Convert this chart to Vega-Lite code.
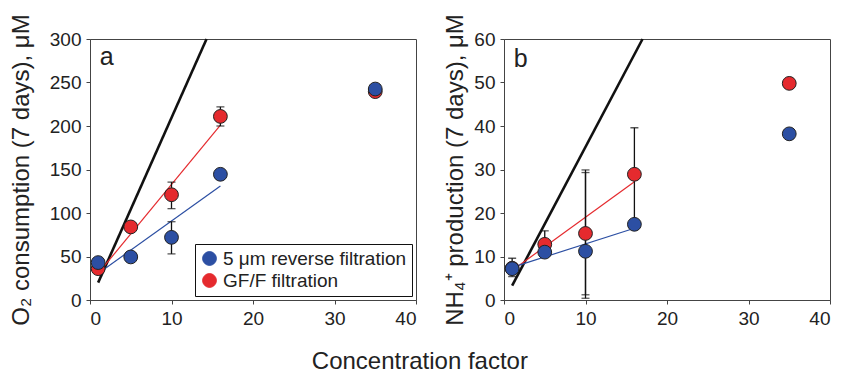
{
  "$schema": "https://vega.github.io/schema/vega-lite/v6.json",
  "background": "white",
  "padding": {"left": 8, "top": 13, "right": 8, "bottom": 2},
  "spacing": 26,
  "config": {
    "font": "Liberation Sans",
    "view": {"stroke": "#444", "strokeWidth": 1},
    "axis": {
      "grid": false,
      "domainColor": "#444",
      "tickColor": "#444",
      "tickSize": 4,
      "labelFontSize": 19,
      "labelColor": "#222",
      "labelPadding": 5,
      "titleFontSize": 24,
      "titleFontWeight": "normal",
      "titleColor": "#222",
      "titlePadding": 16
    }
  },
  "title": {"text": "Concentration factor", "orient": "bottom", "anchor": "middle", "fontSize": 24, "fontWeight": "normal", "color": "#222", "offset": 21},
  "datasets": {
    "pts": [
      {"panel": "a", "series": "GF/F filtration", "x": 1, "y": 36},
      {"panel": "a", "series": "GF/F filtration", "x": 5, "y": 84},
      {"panel": "a", "series": "GF/F filtration", "x": 10, "y": 121},
      {"panel": "a", "series": "GF/F filtration", "x": 16, "y": 211},
      {"panel": "a", "series": "GF/F filtration", "x": 35, "y": 239.5},
      {"panel": "a", "series": "5 μm reverse filtration", "x": 1, "y": 43},
      {"panel": "a", "series": "5 μm reverse filtration", "x": 5, "y": 49.5},
      {"panel": "a", "series": "5 μm reverse filtration", "x": 10, "y": 72},
      {"panel": "a", "series": "5 μm reverse filtration", "x": 16, "y": 144.5},
      {"panel": "a", "series": "5 μm reverse filtration", "x": 35, "y": 242.5},
      {"panel": "b", "series": "GF/F filtration", "x": 1, "y": 7.3},
      {"panel": "b", "series": "GF/F filtration", "x": 5, "y": 12.8},
      {"panel": "b", "series": "GF/F filtration", "x": 10, "y": 15.3},
      {"panel": "b", "series": "GF/F filtration", "x": 16, "y": 28.9},
      {"panel": "b", "series": "GF/F filtration", "x": 35, "y": 49.8},
      {"panel": "b", "series": "5 μm reverse filtration", "x": 1, "y": 7.2},
      {"panel": "b", "series": "5 μm reverse filtration", "x": 5, "y": 11.0},
      {"panel": "b", "series": "5 μm reverse filtration", "x": 10, "y": 11.2},
      {"panel": "b", "series": "5 μm reverse filtration", "x": 16, "y": 17.4},
      {"panel": "b", "series": "5 μm reverse filtration", "x": 35, "y": 38.2}
    ],
    "err": [
      {"panel": "a", "x": 10, "lo": 105, "hi": 135.5},
      {"panel": "a", "x": 10, "lo": 53, "hi": 90},
      {"panel": "a", "x": 16, "lo": 200, "hi": 222},
      {"panel": "b", "x": 1, "lo": 5.4, "hi": 9.6},
      {"panel": "b", "x": 5, "lo": 9.8, "hi": 15.9},
      {"panel": "b", "x": 10, "lo": 0.4, "hi": 29.9},
      {"panel": "b", "x": 10, "lo": 1.2, "hi": 29.3},
      {"panel": "b", "x": 16, "lo": 18.2, "hi": 39.6}
    ],
    "fit": [
      {"panel": "a", "series": "GF/F filtration", "x": 1, "y": 30.5},
      {"panel": "a", "series": "GF/F filtration", "x": 16, "y": 201},
      {"panel": "a", "series": "5 μm reverse filtration", "x": 1, "y": 30.5},
      {"panel": "a", "series": "5 μm reverse filtration", "x": 16, "y": 131},
      {"panel": "b", "series": "GF/F filtration", "x": 1, "y": 6.8},
      {"panel": "b", "series": "GF/F filtration", "x": 16, "y": 27.2},
      {"panel": "b", "series": "5 μm reverse filtration", "x": 1, "y": 7.5},
      {"panel": "b", "series": "5 μm reverse filtration", "x": 16, "y": 16.5}
    ],
    "ref": [
      {"panel": "a", "x": 1, "y": 20},
      {"panel": "a", "x": 14.3, "y": 300},
      {"panel": "b", "x": 1, "y": 3.3},
      {"panel": "b", "x": 17, "y": 60}
    ],
    "lab": [
      {"panel": "a", "label": "a", "x": 1.2, "y": 279},
      {"panel": "b", "label": "b", "x": 1.2, "y": 55.5}
    ]
  },
  "resolve": {"legend": {"color": "independent"}, "scale": {"y": "independent"}},
  "hconcat": [
    {
      "width": 326,
      "height": 261,
      "layer": [
        {
          "data": {"name": "ref"},
          "transform": [{"filter": "datum.panel === 'a'"}],
          "mark": {"type": "line", "color": "#111", "strokeWidth": 2.6},
          "encoding": {
            "x": {"field": "x", "type": "quantitative", "scale": {"domain": [0, 40], "nice": false}, "axis": {"values": [0, 10, 20, 30, 40], "title": null}},
            "y": {"field": "y", "type": "quantitative", "scale": {"domain": [0, 300], "nice": false}, "axis": {"values": [0, 50, 100, 150, 200, 250, 300], "title": "O₂ consumption (7 days), μM", "titlePadding": 16}}
          }
        },
        {
          "data": {"name": "fit"},
          "transform": [{"filter": "datum.panel === 'a'"}],
          "mark": {"type": "line", "strokeWidth": 1.2},
          "encoding": {
            "x": {"field": "x", "type": "quantitative"},
            "y": {"field": "y", "type": "quantitative"},
            "detail": {"field": "series"},
            "color": {"field": "series", "type": "nominal", "scale": {"domain": ["5 μm reverse filtration", "GF/F filtration"], "range": ["#2c4fa3", "#e52a2e"]},
              "legend": {"title": null, "orient": "bottom-right", "offset": 4, "symbolType": "circle", "symbolSize": 190, "symbolStrokeColor": "#222", "symbolStrokeWidth": 1, "symbolOpacity": 1, "labelFontSize": 19, "labelColor": "#222", "labelLimit": 300, "strokeColor": "#111", "fillColor": "white", "padding": 5, "rowPadding": 2, "labelOffset": 4}}
          }
        },
        {
          "data": {"name": "err"},
          "transform": [{"filter": "datum.panel === 'a'"}],
          "mark": {"type": "rule", "color": "#111", "strokeWidth": 1.3},
          "encoding": {
            "x": {"field": "x", "type": "quantitative"},
            "y": {"field": "lo", "type": "quantitative"},
            "y2": {"field": "hi"}
          }
        },
        {
          "data": {"name": "err"},
          "transform": [{"filter": "datum.panel === 'a'"}, {"fold": ["lo", "hi"], "as": ["k", "v"]}],
          "mark": {"type": "tick", "orient": "horizontal", "color": "#111", "size": 8, "thickness": 1.3},
          "encoding": {
            "x": {"field": "x", "type": "quantitative"},
            "y": {"field": "v", "type": "quantitative"}
          }
        },
        {
          "data": {"name": "pts"},
          "transform": [{"filter": "datum.panel === 'a'"}],
          "mark": {"type": "circle", "size": 190, "opacity": 1, "stroke": "#222", "strokeWidth": 1},
          "encoding": {
            "x": {"field": "x", "type": "quantitative"},
            "y": {"field": "y", "type": "quantitative"},
            "color": {"field": "series", "type": "nominal", "scale": {"domain": ["5 μm reverse filtration", "GF/F filtration"], "range": ["#2c4fa3", "#e52a2e"]},
              "legend": {"title": null, "orient": "bottom-right", "offset": 4, "symbolType": "circle", "symbolSize": 190, "symbolStrokeColor": "#222", "symbolStrokeWidth": 1, "symbolOpacity": 1, "labelFontSize": 19, "labelColor": "#222", "labelLimit": 300, "strokeColor": "#111", "fillColor": "white", "padding": 5, "rowPadding": 2, "labelOffset": 4}}
          }
        },
        {
          "data": {"name": "lab"},
          "transform": [{"filter": "datum.panel === 'a'"}],
          "mark": {"type": "text", "align": "left", "baseline": "middle", "fontSize": 25, "color": "#222"},
          "encoding": {
            "x": {"field": "x", "type": "quantitative"},
            "y": {"field": "y", "type": "quantitative"},
            "text": {"field": "label"}
          }
        }
      ]
    },
    {
      "width": 326,
      "height": 261,
      "layer": [
        {
          "data": {"name": "ref"},
          "transform": [{"filter": "datum.panel === 'b'"}],
          "mark": {"type": "line", "color": "#111", "strokeWidth": 2.6},
          "encoding": {
            "x": {"field": "x", "type": "quantitative", "scale": {"domain": [0, 40], "nice": false}, "axis": {"values": [0, 10, 20, 30, 40], "title": null}},
            "y": {"field": "y", "type": "quantitative", "scale": {"domain": [0, 60], "nice": false}, "axis": {"values": [0, 10, 20, 30, 40, 50, 60], "title": "NH₄⁺ production (7 days), μM", "titlePadding": 6}}
          }
        },
        {
          "data": {"name": "fit"},
          "transform": [{"filter": "datum.panel === 'b'"}],
          "mark": {"type": "line", "strokeWidth": 1.2},
          "encoding": {
            "x": {"field": "x", "type": "quantitative"},
            "y": {"field": "y", "type": "quantitative"},
            "detail": {"field": "series"},
            "color": {"field": "series", "type": "nominal", "scale": {"domain": ["5 μm reverse filtration", "GF/F filtration"], "range": ["#2c4fa3", "#e52a2e"]}, "legend": null}
          }
        },
        {
          "data": {"name": "err"},
          "transform": [{"filter": "datum.panel === 'b'"}],
          "mark": {"type": "rule", "color": "#111", "strokeWidth": 1.3},
          "encoding": {
            "x": {"field": "x", "type": "quantitative"},
            "y": {"field": "lo", "type": "quantitative"},
            "y2": {"field": "hi"}
          }
        },
        {
          "data": {"name": "err"},
          "transform": [{"filter": "datum.panel === 'b'"}, {"fold": ["lo", "hi"], "as": ["k", "v"]}],
          "mark": {"type": "tick", "orient": "horizontal", "color": "#111", "size": 8, "thickness": 1.3},
          "encoding": {
            "x": {"field": "x", "type": "quantitative"},
            "y": {"field": "v", "type": "quantitative"}
          }
        },
        {
          "data": {"name": "pts"},
          "transform": [{"filter": "datum.panel === 'b'"}],
          "mark": {"type": "circle", "size": 190, "opacity": 1, "stroke": "#222", "strokeWidth": 1},
          "encoding": {
            "x": {"field": "x", "type": "quantitative"},
            "y": {"field": "y", "type": "quantitative"},
            "color": {"field": "series", "type": "nominal", "scale": {"domain": ["5 μm reverse filtration", "GF/F filtration"], "range": ["#2c4fa3", "#e52a2e"]}, "legend": null}
          }
        },
        {
          "data": {"name": "lab"},
          "transform": [{"filter": "datum.panel === 'b'"}],
          "mark": {"type": "text", "align": "left", "baseline": "middle", "fontSize": 25, "color": "#222"},
          "encoding": {
            "x": {"field": "x", "type": "quantitative"},
            "y": {"field": "y", "type": "quantitative"},
            "text": {"field": "label"}
          }
        }
      ]
    }
  ]
}
